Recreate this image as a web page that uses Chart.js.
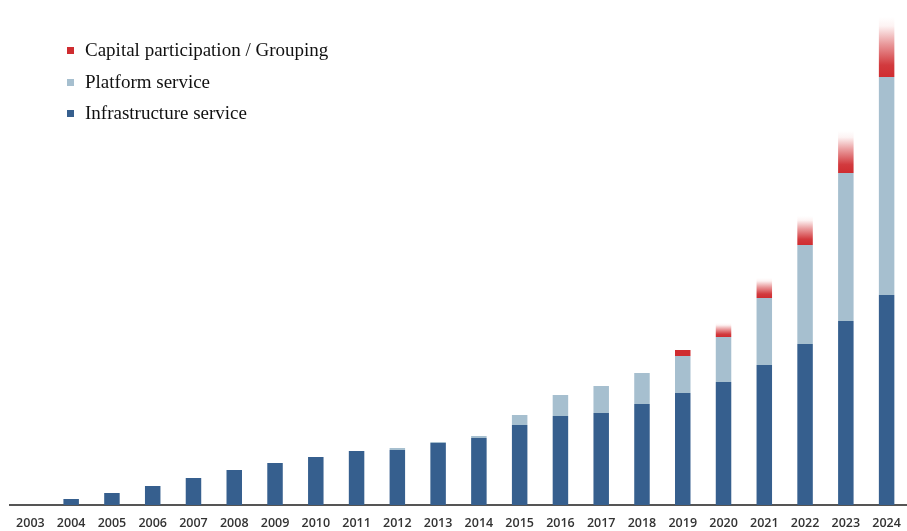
<!DOCTYPE html>
<html>
<head>
<meta charset="utf-8">
<script src="https://cdn.jsdelivr.net/npm/chart.js@4.4.0/dist/chart.umd.min.js"></script>
<style>
  html, body { margin: 0; padding: 0; background: #fff; }
  #wrap { position: relative; width: 907px; height: 531px; }
  #legend { position: absolute; left: 67px; top: 35px; font-family: "Liberation Serif", serif; font-size: 19px; color: #111; }
  #legend div { height: 31.5px; line-height: 30px; white-space: nowrap; }
  #legend span { display: inline-block; width: 7px; height: 7px; margin-right: 11px; vertical-align: 2px; }
</style>
</head>
<body>
<div id="wrap">
  <canvas id="chart" width="907" height="531"></canvas>
  <div id="legend"></div>
</div>
<script>
// years on the x axis
const years = ['2003','2004','2005','2006','2007','2008','2009','2010','2011','2012','2013',
  '2014','2015','2016','2017','2018','2019','2020','2021','2022','2023','2024'];

// values (arbitrary units, no y axis in the original)
const infrastructure = [0, 6, 12, 19, 27, 35, 42, 48, 54, 55, 62, 67, 80, 89, 92, 101, 112, 123, 140, 161, 184, 210];
const platform = [0, 0, 0, 0, 0, 0, 0, 0, 0, 2, 1, 2, 10, 21, 27, 31, 37, 45, 67, 99, 148, 218];
const capital = [0, 0, 0, 0, 0, 0, 0, 0, 0, 0, 0, 0, 0, 0, 0, 0, 6, 14, 20, 29, 42, 60];

const colInfra = '#365f8e';
const colPlatform = '#a6bfcf';
const colCapital = '#cf2c30';

// red segment fades out to white at the top
function capitalFill(context) {
  const chart = context.chart;
  const area = chart.chartArea;
  if (!area) return colCapital;
  const i = context.dataIndex;
  const y = chart.scales.y;
  const base = infrastructure[i] + platform[i];
  const bottom = y.getPixelForValue(base);
  const top = y.getPixelForValue(base + capital[i]);
  if (!(bottom > top) || capital[i] < 8) return colCapital;
  const g = chart.ctx.createLinearGradient(0, bottom, 0, top);
  g.addColorStop(0, colCapital);
  g.addColorStop(0.2, '#d23a3e');
  g.addColorStop(0.55, '#e9999b');
  g.addColorStop(0.85, '#fdf3f3');
  g.addColorStop(1, '#ffffff');
  return g;
}

const legendItems = [
  { label: 'Capital participation / Grouping', color: colCapital },
  { label: 'Platform service', color: colPlatform },
  { label: 'Infrastructure service', color: colInfra }
];
document.getElementById('legend').innerHTML = legendItems
  .map(it => `<div><span style="background:${it.color}"></span>${it.label}</div>`).join('');

const ctx = document.getElementById('chart').getContext('2d');
new Chart(ctx, {
  type: 'bar',
  data: {
    labels: years,
    datasets: [
      { label: 'Infrastructure service', data: infrastructure, backgroundColor: colInfra },
      { label: 'Platform service', data: platform, backgroundColor: colPlatform },
      { label: 'Capital participation / Grouping', data: capital, backgroundColor: capitalFill }
    ]
  },
  options: {
    responsive: false,
    animation: false,
    layout: { padding: { left: 10, right: 0, top: 0, bottom: 0 } },
    datasets: { bar: { barPercentage: 0.38, categoryPercentage: 1, borderWidth: 0 } },
    scales: {
      x: {
        stacked: true,
        grid: { display: false },
        border: { display: true, color: '#555', width: 2 },
        ticks: { color: '#333', padding: 3, maxRotation: 0, autoSkip: false,
          font: { family: 'Open Sans', size: 12.5, weight: '600' } },
        afterFit: scale => { scale.height = 26; }
      },
      y: {
        stacked: true,
        display: false,
        min: 0,
        max: 505
      }
    },
    plugins: {
      legend: { display: false },
      tooltip: { enabled: false }
    }
  }
});
</script>
</body>
</html>
